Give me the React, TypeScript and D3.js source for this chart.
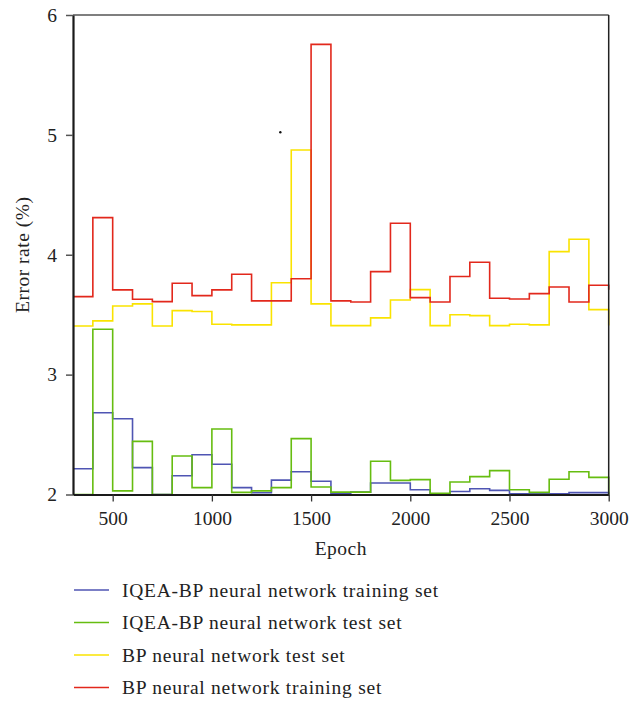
import { useEffect, useRef } from "react"
import * as d3 from "d3"

// epochs at each step edge (last one closes the final step at 3000)
const epochs = [300, 400, 500, 600, 700, 800, 900, 1000, 1100, 1200, 1300, 1400, 1500, 1600, 1700, 1800, 1900, 2000, 2100, 2200, 2300, 2400, 2500, 2600, 2700, 2800, 2900, 3000]

const iqeaTrain = [2.215, 2.682, 2.632, 2.224, 2.0, 2.157, 2.332, 2.252, 2.057, 2.015, 2.12, 2.19, 2.11, 2.01, 2.02, 2.096, 2.096, 2.04, 2.005, 2.025, 2.048, 2.034, 2.005, 2.005, 2.005, 2.016, 2.016, 2.0]
const iqeaTest = [2.0, 3.378, 2.03, 2.443, 2.0, 2.321, 2.057, 2.546, 2.018, 2.03, 2.057, 2.466, 2.063, 2.02, 2.02, 2.277, 2.118, 2.124, 2.01, 2.104, 2.149, 2.199, 2.04, 2.018, 2.127, 2.19, 2.143, 2.0]
const bpTest = [3.406, 3.448, 3.573, 3.59, 3.406, 3.534, 3.526, 3.42, 3.415, 3.415, 3.767, 4.874, 3.59, 3.409, 3.409, 3.473, 3.623, 3.709, 3.409, 3.5, 3.492, 3.409, 3.42, 3.415, 4.026, 4.129, 3.542, 3.409]
const bpTrain = [3.651, 4.31, 3.707, 3.629, 3.609, 3.762, 3.659, 3.707, 3.837, 3.615, 3.615, 3.8, 5.755, 3.615, 3.606, 3.859, 4.263, 3.642, 3.606, 3.818, 3.937, 3.637, 3.631, 3.676, 3.731, 3.606, 3.746, 3.707]

const xTicks = [500, 1000, 1500, 2000, 2500, 3000]
const yTicks = [2, 3, 4, 5, 6]

const seriesNames = [
    "IQEA-BP neural network training set",
    "IQEA-BP neural network test set",
    "BP neural network test set",
    "BP neural network training set",
]
const seriesColors = ["#4f55b3", "#66bd10", "#fae300", "#e2281c"]
const seriesValues = [iqeaTrain, iqeaTest, bpTest, bpTrain]

// stray speck visible in the source figure
const speck = { epoch: 1345, value: 5.022 }

const FONT = "'Liberation Serif', 'Times New Roman', serif"
const FS = 19.5

export default function App() {
    const ref = useRef<SVGSVGElement | null>(null)

    useEffect(() => {
        document.body.style.margin = "0"
        const svg = d3.select(ref.current)
        svg.selectAll("*").remove()

        const left = 73, right = 608.7, top = 15, bottom = 494.5

        const x = d3.scaleLinear().domain([300, 3000]).range([left, right])
        const y = d3.scaleLinear().domain([2, 6]).range([bottom, top])

        const line = d3.line<[number, number]>()
            .x(d => x(d[0]))
            .y(d => y(d[1]))
            .curve(d3.curveStepAfter)

        seriesValues.forEach((vals, i) => {
            svg.append("path")
                .datum(epochs.map((e, j) => [e, vals[j]] as [number, number]))
                .attr("fill", "none")
                .attr("stroke", seriesColors[i])
                .attr("stroke-width", 1.6)
                .attr("d", line)
        })

        svg.append("circle")
            .attr("cx", x(speck.epoch))
            .attr("cy", y(speck.value))
            .attr("r", 1.2)
            .attr("fill", "#111")

        // frame: top and right
        svg.append("line")
            .attr("x1", left).attr("x2", right)
            .attr("y1", top).attr("y2", top)
            .attr("stroke", "#555").attr("stroke-width", 1.5)
        svg.append("line")
            .attr("x1", right).attr("x2", right)
            .attr("y1", top).attr("y2", bottom)
            .attr("stroke", "#222").attr("stroke-width", 1.5)

        // y axis
        const yAxis = svg.append("g")
            .attr("transform", `translate(${left},0)`)
            .call(d3.axisLeft(y).tickValues(yTicks).tickFormat(d3.format("d")).tickSize(7).tickPadding(9).tickSizeOuter(0))
        yAxis.select(".domain").attr("stroke", "#1a1a1a").attr("stroke-width", 2.2)
        yAxis.selectAll(".tick line").attr("stroke", "#555").attr("stroke-width", 1.5)
        yAxis.selectAll("text")
            .attr("font-family", FONT)
            .attr("font-size", FS)
            .attr("fill", "#222")

        // x axis
        const xAxis = svg.append("g")
            .attr("transform", `translate(0,${bottom})`)
            .call(d3.axisBottom(x).tickValues(xTicks).tickFormat(d3.format("d")).tickSize(7).tickPadding(10).tickSizeOuter(0))
        xAxis.select(".domain").attr("stroke", "#1a1a1a").attr("stroke-width", 2.2)
        xAxis.selectAll(".tick line").attr("stroke", "#333").attr("stroke-width", 1.3)
        xAxis.selectAll("text")
            .attr("font-family", FONT)
            .attr("font-size", FS)
            .attr("fill", "#222")

        svg.append("text")
            .attr("x", (left + right) / 2)
            .attr("y", 555)
            .attr("text-anchor", "middle")
            .attr("font-family", FONT)
            .attr("font-size", FS)
            .attr("letter-spacing", 0.5)
            .attr("fill", "#222")
            .text("Epoch")

        svg.append("text")
            .attr("transform", `translate(29,${(top + bottom) / 2}) rotate(-90)`)
            .attr("text-anchor", "middle")
            .attr("font-family", FONT)
            .attr("font-size", FS)
            .attr("letter-spacing", 0.5)
            .attr("fill", "#222")
            .text("Error rate (%)")

        // legend
        const legend = svg.append("g").attr("transform", "translate(74,590)")
        seriesNames.forEach((name, i) => {
            const row = legend.append("g").attr("transform", `translate(0,${i * 32.5})`)
            row.append("line")
                .attr("x1", 0).attr("x2", 35)
                .attr("stroke", seriesColors[i])
                .attr("stroke-width", 1.6)
            row.append("text")
                .attr("x", 48)
                .attr("y", 6.5)
                .attr("font-family", FONT)
                .attr("font-size", FS)
                .attr("letter-spacing", 0.75)
                .attr("fill", "#222")
                .text(name)
        })
    }, [])

    return <svg ref={ref} width={642} height={701} style={{ display: "block", background: "#fff" }} />
}
